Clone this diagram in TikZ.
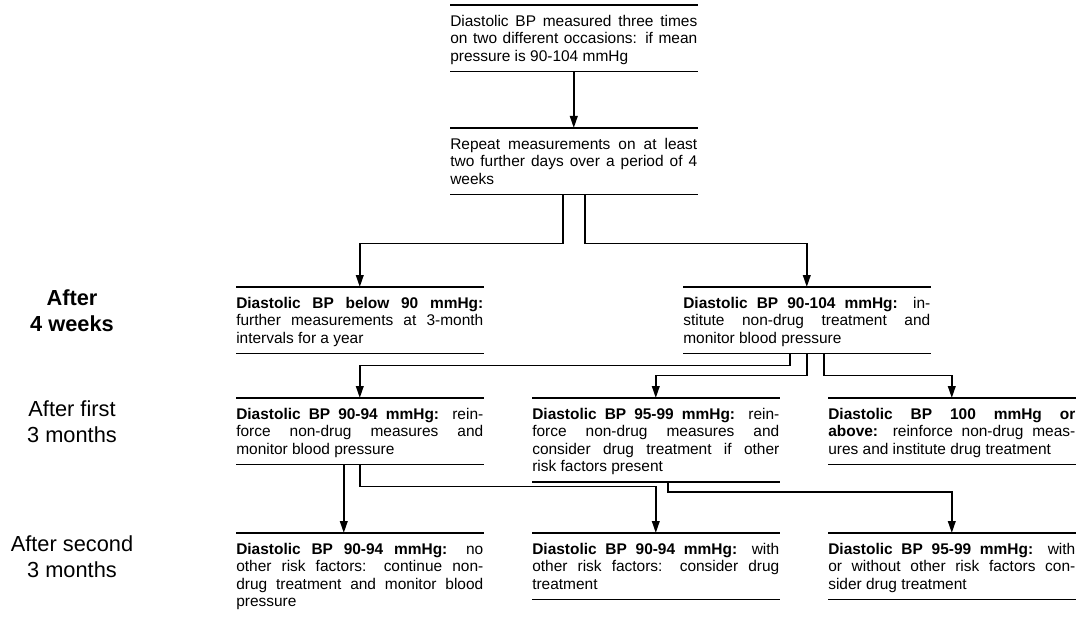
\documentclass[tikz,border=0pt]{standalone}
\usepackage{fontspec}
\setmainfont{Liberation Sans}
\usetikzlibrary{arrows.meta}

\tikzset{
    stagebox/.style={anchor=north west, text width=6.175cm, inner xsep=0pt, inner ysep=0pt, align=justify,
        execute at begin node={\rule{0pt}{14.9pt}},
        execute at end node={\rule[-7.1pt]{0pt}{7.1pt}}},
    lab/.style={align=center, font=\fontsize{15.5}{18.5}\selectfont},
    edgeline/.style={line width=0.8pt},
    arr/.style={line width=1.3pt, -{Triangle[length=3mm, width=1.9mm]}}
}

\begin{document}
\begin{tikzpicture}[font=\fontsize{11}{12.45}\selectfont]
    \useasboundingbox (0, 0) rectangle (27.025, -15.625);
    \node[stagebox] (meas) at (11.25, -0.125) {Diastolic BP measured three times\linebreak on two different occasions: if mean\linebreak pressure is 90-104 mmHg};
    \node[stagebox] (rep) at (11.25, -3.2) {Repeat measurements on at least\linebreak two further days over a period of 4\linebreak weeks};
    \node[stagebox] (below) at (5.9, -7.175) {\textbf{Diastolic BP below 90 mmHg:}\linebreak further measurements at 3-month\linebreak intervals for a year};
    \node[stagebox] (high) at (17.075, -7.175) {\textbf{Diastolic BP 90-104 mmHg:} in-\linebreak stitute non-drug treatment and\linebreak monitor blood pressure};
    \node[stagebox] (bp90) at (5.9, -9.95) {\textbf{Diastolic BP 90-94 mmHg:} rein-\linebreak force non-drug measures and\linebreak monitor blood pressure};
    \node[stagebox] (bp95) at (13.3, -9.95) {\textbf{Diastolic BP 95-99 mmHg:} rein-\linebreak force non-drug measures and\linebreak consider drug treatment if other\linebreak risk factors present};
    \node[stagebox] (bp100) at (20.7, -9.95) {\textbf{Diastolic BP 100 mmHg or}\linebreak \textbf{above:} reinforce non-drug meas-\linebreak ures and institute drug treatment};
    \node[stagebox] (norisk) at (5.9, -13.325) {\textbf{Diastolic BP 90-94 mmHg:} no\linebreak other risk factors: continue non-\linebreak drug treatment and monitor blood\linebreak pressure};
    \node[stagebox] (risk) at (13.3, -13.325) {\textbf{Diastolic BP 90-94 mmHg:} with\linebreak other risk factors: consider drug\linebreak treatment};
    \node[stagebox] (anyrisk) at (20.7, -13.325) {\textbf{Diastolic BP 95-99 mmHg:} with\linebreak or without other risk factors con-\linebreak sider drug treatment};

    \node[lab, font=\fontsize{15.5}{18.5}\selectfont\bfseries] (weeks) at (1.8, -7.78) {After\\4 weeks};
    \node[lab] (first) at (1.8, -10.55) {After first\\3 months};
    \node[lab] (second) at (1.8, -13.93) {After second\\3 months};

    \foreach \n in {meas,rep,below,high,bp90,bp95,bp100,norisk,risk,anyrisk}
        \draw[edgeline] (\n.north west) -- (\n.north east);
    \foreach \n in {meas,rep,below,high,bp90,bp95,bp100,risk,anyrisk}
        \draw[edgeline] (\n.south west) -- (\n.south east);

    \draw[arr] (meas.south) -- (rep.north);
    \draw[arr] ([xshift=-0.275cm]rep.south) -- ++(0, -1.225) -| (below.north);
    \draw[arr] ([xshift=0.275cm]rep.south) -- ++(0, -1.225) -| (high.north);
    \draw[arr] ([xshift=-0.425cm]high.south) -- ++(0, -0.3) -| (bp90.north);
    \draw[arr] (high.south) -- ++(0, -0.55) -| (bp95.north);
    \draw[arr] ([xshift=0.425cm]high.south) -- ++(0, -0.55) -| (bp100.north);
    \draw[arr] ([xshift=-0.4cm]bp90.south) -- ([xshift=-0.4cm]norisk.north);
    \draw[arr] (bp90.south) -- ++(0, -0.55) -| (risk.north);
    \draw[arr] ([xshift=0.3cm]bp95.south) -- ++(0, -0.25) -| (anyrisk.north);
\end{tikzpicture}
\end{document}
